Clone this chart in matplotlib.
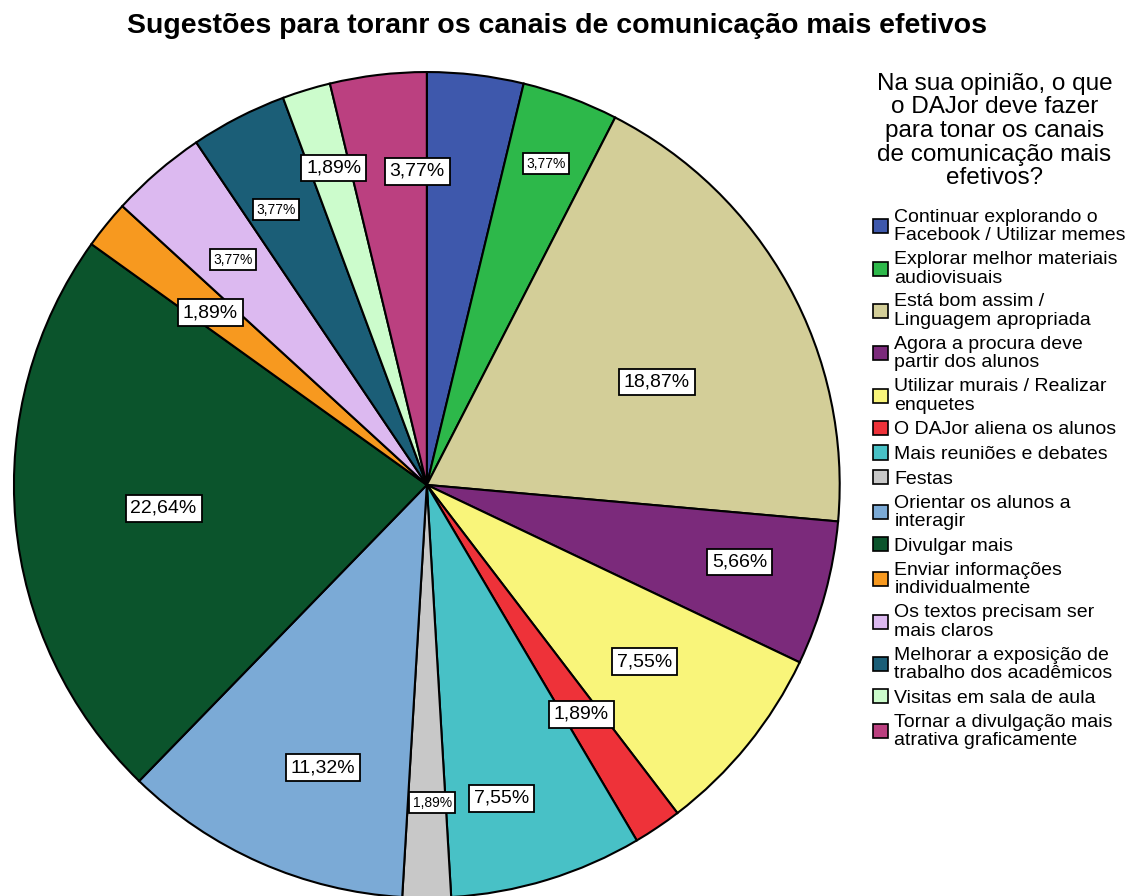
import numpy as np
import matplotlib
matplotlib.use('Agg')
import matplotlib.pyplot as plt

plt.rcParams['font.family'] = ['Liberation Sans', 'DejaVu Sans']

# Data
categories = [
   'Continuar explorando o\nFacebook / Utilizar memes',
   'Explorar melhor materiais\naudiovisuais',
   'Está bom assim /\nLinguagem apropriada',
   'Agora a procura deve\npartir dos alunos',
   'Utilizar murais / Realizar\nenquetes',
   'O DAJor aliena os alunos',
   'Mais reuniões e debates',
   'Festas',
   'Orientar os alunos a\ninteragir',
   'Divulgar mais',
   'Enviar informações\nindividualmente',
   'Os textos precisam ser\nmais claros',
   'Melhorar a exposição de\ntrabalho dos acadêmicos',
   'Visitas em sala de aula',
   'Tornar a divulgação mais\natrativa graficamente',
]
percents = [3.77, 3.77, 18.87, 5.66, 7.55, 1.89, 7.55, 1.89,
            11.32, 22.64, 1.89, 3.77, 3.77, 1.89, 3.77]
labels = ['', '3,77%', '18,87%', '5,66%', '7,55%', '1,89%', '7,55%', '1,89%',
          '11,32%', '22,64%', '1,89%', '3,77%', '3,77%', '1,89%', '3,77%']

# Styling
colors = ['#3E58AC', '#2DB84A', '#D3CE98', '#7B2A7B', '#F9F57A', '#EE3239',
          '#48C1C6', '#C8C8C8', '#7BAAD6', '#0B542C', '#F7991F', '#DCB9F0',
          '#1B5E77', '#CCFCCC', '#BB4080']
label_r = [0.76, 0.83, 0.61, 0.78, 0.68, 0.67, 0.78, 0.77,
           0.73, 0.64, 0.67, 0.72, 0.76, 0.80, 0.76]
label_dang = [0, 0, -4.8, 1.4, 0, 0, -3.6, 1.0, 3.6, 0, 0.6, 0, 1.6, -0.6, -5.0]
label_fs = [14, 10, 14, 14, 14, 14, 14, 10, 14, 14, 14, 10, 10, 14, 14]

fig = plt.figure(figsize=(11.25, 8.96), dpi=100)
ax = fig.add_axes([0.0124, -0.0022, 0.734, 0.922])

wedges, _ = ax.pie(percents, colors=colors, startangle=90, counterclock=False,
                   radius=1.0,
                   wedgeprops=dict(edgecolor='black', linewidth=1.5))
ax.set_xlim(-1, 1)
ax.set_ylim(-1, 1)
ax.set_aspect('equal')
ax.axis('off')

for w, lab, r, da, fs in zip(wedges, labels, label_r, label_dang, label_fs):
   if not lab:
      continue
   mid = np.deg2rad((w.theta1 + w.theta2) / 2.0 + da)
   ax.text(r * np.cos(mid), r * np.sin(mid), lab, ha='center', va='center',
           fontsize=fs,
           bbox=dict(boxstyle='square,pad=0.25', facecolor='white',
                     edgecolor='black', linewidth=1.3))

fig.suptitle('Sugestões para toranr os canais de comunicação mais efetivos',
             x=0.495, y=0.985, fontsize=20.5, fontweight='bold')

# Legend title as separate text so the gap below it can be controlled
fig.text(0.884, 0.919,
         'Na sua opinião, o que\no DAJor deve fazer\npara tonar os canais\nde comunicação mais\nefetivos?',
         ha='center', va='top', multialignment='center',
         fontsize=17.5, linespacing=1.1)

leg = fig.legend(wedges, categories, loc='upper left',
                 bbox_to_anchor=(0.776, 0.767), frameon=False,
                 fontsize=14,
                 handlelength=0.75, handleheight=0.75, handletextpad=0.35,
                 labelspacing=0.35, borderaxespad=0, borderpad=0)
for t in leg.get_texts():
   t.set_linespacing(1.12)
for h in leg.legend_handles:
   h.set_linewidth(1.2)

plt.savefig('out.png', dpi=100)
